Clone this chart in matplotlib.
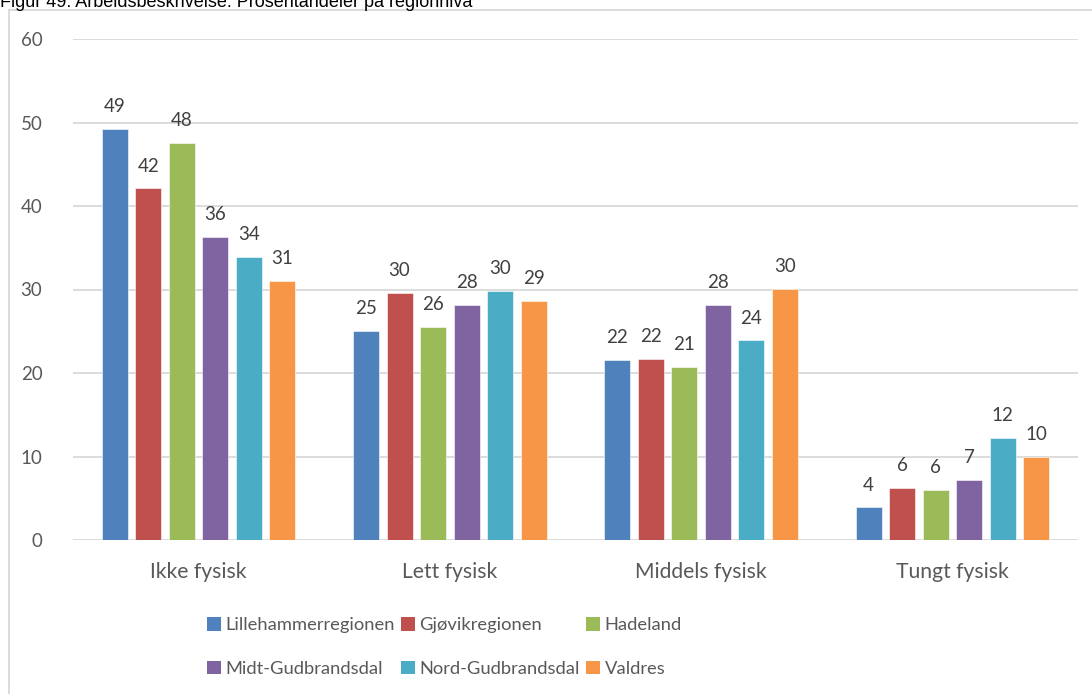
import matplotlib
matplotlib.use("Agg")
from matplotlib import pyplot as plt
from matplotlib.patches import Rectangle, Patch
import numpy as np

plt.rcParams['font.family'] = ['Lato', 'DejaVu Sans']

title = "Figur 49: Arbeidsbeskrivelse: Prosentandeler på regionnivå"
categories = ["Ikke fysisk", "Lett fysisk", "Middels fysisk", "Tungt fysisk"]
regions = ["Lillehammerregionen", "Gjøvikregionen", "Hadeland",
           "Midt-Gudbrandsdal", "Nord-Gudbrandsdal", "Valdres"]

# percent per region, one entry per category
lillehammer = [49.2, 25.0, 21.6, 3.9]
gjovik = [42.1, 29.6, 21.7, 6.2]
hadeland = [47.6, 25.5, 20.7, 6.0]
midt_gudbrandsdal = [36.3, 28.2, 28.2, 7.2]
nord_gudbrandsdal = [33.9, 29.8, 23.9, 12.2]
valdres = [31.0, 28.6, 30.1, 9.9]

series = [lillehammer, gjovik, hadeland, midt_gudbrandsdal, nord_gudbrandsdal, valdres]
colors = ["#4F81BD", "#C0504D", "#9BBB59", "#8064A2", "#4BACC6", "#F79646"]

W, H = 1092, 694
fig = plt.figure(figsize=(W / 100, H / 100), dpi=100)

# chart frame, runs off the right and bottom edges
fig.patches.append(Rectangle((8.5 / W, -0.1), 1.2, 1.1 - 10.5 / H,
                             transform=fig.transFigure, fill=False,
                             edgecolor="#D9D9D9", linewidth=1.3))

fig.text(0, 1 - 7 / H, title, family="Liberation Sans", fontsize=13,
         color="black", va="baseline", ha="left")

ax = fig.add_axes([73 / W, 1 - 540 / H, (1078 - 73) / W, (540 - 39) / H])

x = np.arange(len(categories))
width = 0.1036
step = 0.1335
for i, (vals, col) in enumerate(zip(series, colors)):
    pos = x + (i - 2.5) * step
    bars = ax.bar(pos, vals, width, color=col, edgecolor="white", linewidth=0.4,
                  label=regions[i], zorder=3)
    for b, v in zip(bars, vals):
        ax.annotate("%d" % round(v), (b.get_x() + b.get_width() / 2, v),
                    xytext=(0, 10), textcoords="offset points",
                    ha="center", va="bottom", fontsize=13.5, color="#404040")

ax.set_xlim(-0.5, 3.5)
ax.set_ylim(0, 60)
ax.set_yticks(range(0, 61, 10))
ax.set_xticks(x)
ax.set_xticklabels(categories, fontsize=15.2)
ax.tick_params(axis="both", length=0, colors="#595959")
ax.tick_params(axis="y", pad=22, labelsize=13.5)
ax.tick_params(axis="x", pad=16)
ax.yaxis.grid(True, color="#D9D9D9", linewidth=1.3, zorder=0)
for s in ax.spines.values():
    s.set_visible(False)

# legend fills column by column, so reorder to read row by row
order = [0, 3, 1, 4, 2, 5]
handles = [Patch(facecolor=colors[k], edgecolor="none") for k in order]
labels = [regions[k] for k in order]
leg = fig.legend(handles, labels, ncol=3, loc="center left",
                 bbox_to_anchor=(207 / W, 1 - 647 / H), frameon=False,
                 fontsize=13.2, handlelength=0.75, handleheight=0.75,
                 handletextpad=0.25, columnspacing=0.35, labelspacing=1.5,
                 borderpad=0, borderaxespad=0)
for t in leg.get_texts():
    t.set_color("#595959")

fig.savefig("out.png", dpi=100)
